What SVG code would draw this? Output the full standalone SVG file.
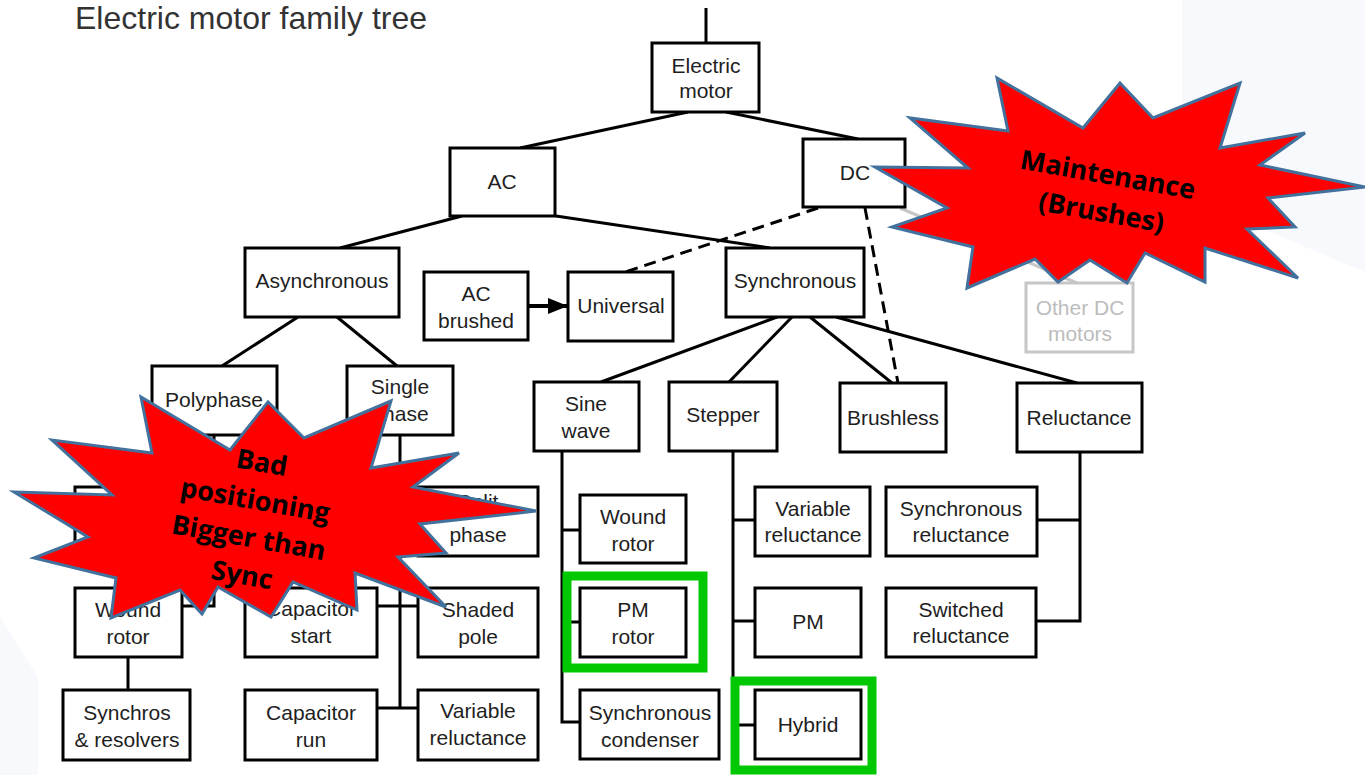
<svg xmlns="http://www.w3.org/2000/svg" width="1365" height="775" viewBox="0 0 1365 775">
<style>
.box{fill:#fff;stroke:#000;stroke-width:3}
.gbox{fill:#fff;stroke:#c6c6c6;stroke-width:3}
.t{font-family:"Liberation Sans",Arial,sans-serif;font-size:21px;fill:#1e1e1e;text-anchor:middle}
.gt{fill:#bcbcbc}
.ln{stroke:#000;stroke-width:3;fill:none}
.dash{stroke-dasharray:12 7}
.gln{stroke:#c6c6c6;stroke-width:3;fill:none}
.hl{fill:none;stroke:#00c800;stroke-width:9}
.burst{fill:#ff0000;stroke:#41719c;stroke-width:3;stroke-linejoin:miter}
.bt{font-family:"Open Sans","Noto Sans",sans-serif;font-weight:700;font-size:27px;fill:#000;text-anchor:middle}
</style>
<defs>
<marker id="arr" markerWidth="20" markerHeight="16" refX="20" refY="8" orient="auto" markerUnits="userSpaceOnUse"><path d="M0,0 L20,8 L0,16 z" fill="#000"/></marker>
</defs>
<rect width="1365" height="775" fill="#fff"/>
<polygon points="1182,0 1365,0 1365,272 1182,195" fill="#f7f9fc"/>
<polygon points="0,617 38,677 38,775 0,775" fill="#f7f9fc"/>
<text x="75" y="29" font-family="Liberation Sans,Arial,sans-serif" font-size="32" fill="#333">Electric motor family tree</text>

<g id="connectors">
<line class="ln" x1="706" y1="8" x2="706" y2="43"/>
<line class="ln" x1="688" y1="112" x2="520" y2="148"/>
<line class="ln" x1="726" y1="112" x2="858" y2="139"/>
<line class="ln" x1="462" y1="216" x2="340" y2="248"/>
<line class="ln" x1="556" y1="216" x2="770" y2="248"/>
<line class="ln dash" x1="818" y1="208" x2="625" y2="272"/>
<line class="ln dash" x1="865" y1="208" x2="898" y2="383"/>
<line class="gln" x1="900" y1="208" x2="1077" y2="283"/>
<line class="ln" x1="298" y1="317" x2="222" y2="366"/>
<line class="ln" x1="337" y1="317" x2="397" y2="366"/>
<line x1="528" y1="306" x2="568" y2="306" stroke="#000" stroke-width="4" marker-end="url(#arr)"/>
<line class="ln" x1="777" y1="317" x2="601" y2="382"/>
<line class="ln" x1="792" y1="317" x2="729" y2="382"/>
<line class="ln" x1="810" y1="317" x2="892" y2="383"/>
<line class="ln" x1="836" y1="317" x2="1077" y2="383"/>
<polyline class="ln" points="214,435 214,606 182,606"/>
<line class="ln" x1="182" y1="521" x2="214" y2="521"/>
<line class="ln" x1="128" y1="657" x2="128" y2="690"/>
<line class="ln" x1="400" y1="435" x2="400" y2="708"/>
<line class="ln" x1="400" y1="521" x2="418" y2="521"/>
<line class="ln" x1="377" y1="606" x2="418" y2="606"/>
<line class="ln" x1="377" y1="708" x2="418" y2="708"/>
<polyline class="ln" points="562,451 562,722 580,722"/>
<line class="ln" x1="562" y1="530" x2="580" y2="530"/>
<line class="ln" x1="562" y1="622" x2="580" y2="622"/>
<polyline class="ln" points="733,451 733,725 755,725"/>
<line class="ln" x1="733" y1="520" x2="755" y2="520"/>
<line class="ln" x1="733" y1="621" x2="755" y2="621"/>
<polyline class="ln" points="1080,452 1080,621 1036,621"/>
<line class="ln" x1="1037" y1="520" x2="1080" y2="520"/>
</g>

<g id="n-em"><rect class="box" x="652" y="43" width="107" height="69"/><text class="t" x="706" y="73">Electric</text><text class="t" x="706" y="98">motor</text></g>
<g id="n-ac"><rect class="box" x="450" y="148" width="105" height="68"/><text class="t" x="502" y="189">AC</text></g>
<g id="n-dc"><rect class="box" x="803" y="139" width="102" height="68"/><text class="t" x="855" y="180">DC</text></g>
<g id="n-async"><rect class="box" x="245" y="248" width="154" height="69"/><text class="t" x="322" y="288">Asynchronous</text></g>
<g id="n-acb"><rect class="box" x="424" y="272" width="104" height="68"/><text class="t" x="476" y="301">AC</text><text class="t" x="476" y="328">brushed</text></g>
<g id="n-univ"><rect class="box" x="568" y="272" width="105" height="69"/><text class="t" x="621" y="313">Universal</text></g>
<g id="n-sync"><rect class="box" x="726" y="248" width="138" height="69"/><text class="t" x="795" y="288">Synchronous</text></g>
<g id="n-otherdc"><rect class="gbox" x="1026" y="283" width="107" height="69"/><text class="t gt" x="1080" y="315">Other DC</text><text class="t gt" x="1080" y="341">motors</text></g>
<g id="n-poly"><rect class="box" x="152" y="366" width="125" height="69"/><text class="t" x="214" y="407">Polyphase</text></g>
<g id="n-single"><rect class="box" x="347" y="366" width="106" height="69"/><text class="t" x="400" y="394">Single</text><text class="t" x="400" y="421">phase</text></g>
<g id="n-sine"><rect class="box" x="534" y="382" width="105" height="69"/><text class="t" x="586" y="411">Sine</text><text class="t" x="586" y="438">wave</text></g>
<g id="n-stepper"><rect class="box" x="669" y="382" width="108" height="69"/><text class="t" x="723" y="422">Stepper</text></g>
<g id="n-brushless"><rect class="box" x="840" y="383" width="106" height="69"/><text class="t" x="893" y="425">Brushless</text></g>
<g id="n-reluct"><rect class="box" x="1017" y="383" width="125" height="69"/><text class="t" x="1079" y="425">Reluctance</text></g>
<g id="n-polychild"><rect class="box" x="75" y="487" width="107" height="69"/></g>
<g id="n-split"><rect class="box" x="418" y="487" width="120" height="69"/><text class="t" x="478" y="509">Split</text><text class="t" x="478" y="542">phase</text></g>
<g id="n-woundL"><rect class="box" x="75" y="588" width="107" height="69"/><text class="t" x="128" y="617">Wound</text><text class="t" x="128" y="644">rotor</text></g>
<g id="n-synchros"><rect class="box" x="63" y="690" width="127" height="70"/><text class="t" x="127" y="720">Synchros</text><text class="t" x="127" y="747">&amp; resolvers</text></g>
<g id="n-capstart"><rect class="box" x="245" y="588" width="132" height="69"/><text class="t" x="311" y="616">Capacitor</text><text class="t" x="311" y="643">start</text></g>
<g id="n-shaded"><rect class="box" x="418" y="588" width="120" height="69"/><text class="t" x="478" y="617">Shaded</text><text class="t" x="478" y="644">pole</text></g>
<g id="n-caprun"><rect class="box" x="245" y="690" width="132" height="70"/><text class="t" x="311" y="720">Capacitor</text><text class="t" x="311" y="747">run</text></g>
<g id="n-varrelL"><rect class="box" x="418" y="690" width="120" height="70"/><text class="t" x="478" y="718">Variable</text><text class="t" x="478" y="745">reluctance</text></g>
<g id="n-woundS"><rect class="box" x="580" y="495" width="106" height="68"/><text class="t" x="633" y="524">Wound</text><text class="t" x="633" y="551">rotor</text></g>
<g id="n-pmrotor"><rect class="box" x="580" y="588" width="106" height="69"/><text class="t" x="633" y="617">PM</text><text class="t" x="633" y="644">rotor</text></g>
<g id="n-synccond"><rect class="box" x="580" y="690" width="139" height="69"/><text class="t" x="650" y="720">Synchronous</text><text class="t" x="650" y="747">condenser</text></g>
<g id="n-varrelS"><rect class="box" x="755" y="487" width="115" height="69"/><text class="t" x="813" y="516">Variable</text><text class="t" x="813" y="542">reluctance</text></g>
<g id="n-pm"><rect class="box" x="755" y="588" width="106" height="69"/><text class="t" x="808" y="629">PM</text></g>
<g id="n-hybrid"><rect class="box" x="755" y="690" width="106" height="69"/><text class="t" x="808" y="732">Hybrid</text></g>
<g id="n-syncrel"><rect class="box" x="886" y="487" width="151" height="69"/><text class="t" x="961" y="516">Synchronous</text><text class="t" x="961" y="542">reluctance</text></g>
<g id="n-switched"><rect class="box" x="886" y="588" width="150" height="69"/><text class="t" x="961" y="617">Switched</text><text class="t" x="961" y="643">reluctance</text></g>

<g id="highlights">
<rect class="hl" x="567" y="576" width="136" height="92"/>
<rect class="hl" x="735" y="681" width="137" height="89"/>
</g>

<g id="burst-right">
<polygon class="burst" points="875,167 968,168 910,118 1008,131 997,78 1083,128 1120,83 1153,118 1240,83 1220,148 1305,133 1260,165 1365,187 1268,198 1295,227 1247,229 1298,278 1205,248 1205,282 1145,253 1127,283 1090,260 1058,282 1035,259 967,288 973,247 892,227 947,208"/>
<g transform="translate(1108,174) rotate(10)"><text class="bt" x="0" y="10">Maintenance</text><text class="bt" x="0" y="48">(Brushes)</text></g>
</g>

<g id="burst-left">
<polygon class="burst" points="14,492 112,495 52,440 152,453 141,397 230,450 268,402 304,438 391,401 371,468 459,453 413,487 536,511 420,524 446,553 398,557 446,607 355,573 357,610 293,582 271,617 218,587 202,614 180,590 111,618 116,578 34,558 88,537"/>
<g transform="translate(262,462) rotate(10)"><text class="bt" x="0" y="10">Bad</text><text class="bt" x="0" y="48">positioning</text><text class="bt" x="0" y="86">Bigger than</text><text class="bt" x="0" y="124">Sync</text></g>
</g>
</svg>
